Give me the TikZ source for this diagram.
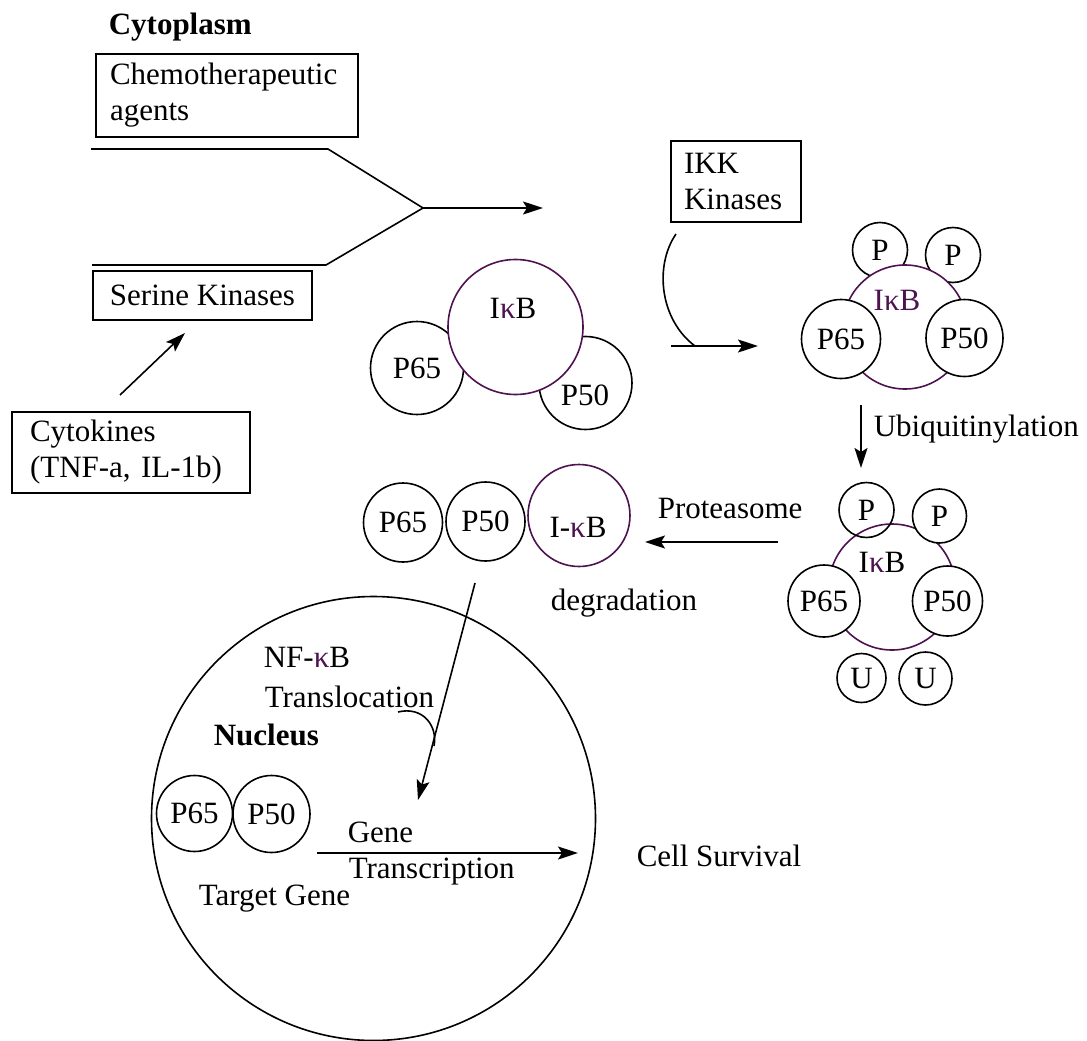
\documentclass[tikz,border=0pt]{standalone}
\usepackage{fontspec}
\setmainfont{Liberation Serif}
\usepackage{xcolor}
\usetikzlibrary{arrows.meta, positioning}
\definecolor{ikbpurple}{HTML}{4E1250}

\begin{document}
\begin{tikzpicture}[x=1pt, y=-1pt, line width=1.6pt, >={Stealth[length=20pt,width=13pt,inset=4pt]},
                    font=\fontsize{31}{36}\selectfont, every node/.style={inner sep=0pt},
                    txt/.style={anchor=base west},
                    box/.style={draw, rectangle, align=left, inner xsep=14pt},
                    mol/.style={draw, circle, fill=white},
                    ikb/.style={draw=ikbpurple, circle, fill=white}]
                      \useasboundingbox (0,0) rectangle (1087,1041);

                      \node[txt] (cyto) at (108,35) {\bfseries Cytoplasm};
                      \node[box, minimum width=262, minimum height=83, text width=234] (chemo) at (227,95.5) {Chemotherapeutic\\agents};
                      \node[box, minimum width=219, minimum height=49, align=center] (serine) at (202.5,295.5) {Serine Kinases};
                      \node[box, minimum width=238, minimum height=81, text width=202, inner xsep=18pt] (cytok) at (131,452.5) {Cytokines\\(TNF-a, IL-1b)};
                      \node[box, minimum width=130, minimum height=81, text width=104, inner xsep=13pt] (ikk) at (736,181.5) {IKK\\Kinases};

                      \coordinate (f1) at (91,149);
                      \coordinate (f2) at (328,149);
                      \coordinate (fj) at (423,208);
                      \coordinate (f3) at (326,265);
                      \coordinate (f4) at (92,265);
                      \coordinate (ftip) at (543,208);
                      \draw (f1) -- (f2) -- (fj) -- (f3) -- (f4);
                      \draw[->] (fj) -- (ftip);

                      \coordinate (c1) at (120,395);
                      \coordinate (c2) at (185,333);
                      \draw[->] (c1) -- (c2);

                      \node[mol, minimum size=93] (p65a) at (417,368) {P65};
                      \node[mol, minimum size=93] (p50a) at (585.5,383) {};
                      \node[ikb, minimum size=135] (ikba) at (515.5,327) {};
                      \node (ikbatxt) at (513,308) {I{\color{ikbpurple}κ}B};
                      \node (p50atxt) at (585,395) {P50};

                      \coordinate (k1) at (676,234);
                      \coordinate (k2) at (695,346);
                      \coordinate (a1) at (671,346);
                      \coordinate (a2) at (758,346);
                      \draw (k1) .. controls (654,266) and (660,320) .. (k2);
                      \draw[->] (a1) -- (a2);

                      \node[mol, minimum size=55] (pa) at (880,250) {P};
                      \node[mol, minimum size=55] (pb) at (953,255) {P};
                      \node[ikb, minimum size=124] (ikbb) at (905,327) {};
                      \node (ikbbtxt) at (897,300) {\color{ikbpurple}IκB};
                      \node[mol, minimum size=79] (p65b) at (841,339) {P65};
                      \node[mol, minimum size=77] (p50b) at (964.5,338) {P50};

                      \coordinate (u1) at (861,405);
                      \coordinate (u2) at (861,468);
                      \draw[->] (u1) -- (u2);
                      \node[txt] (ubiq) at (873,436) {Ubiquitinylation};

                      \node[ikb, minimum size=126] (ikbc) at (892,587) {};
                      \node[draw, circle, minimum size=55] (pc) at (866.5,510) {P};
                      \node[mol, minimum size=54] (pd) at (939.5,516) {P};
                      \node (ikbctxt) at (882,562) {I{\color{ikbpurple}κ}B};
                      \node[mol, minimum size=72] (p65c) at (824,601) {P65};
                      \node[mol, minimum size=70] (p50c) at (947.5,601) {P50};
                      \node[mol, minimum size=49] (ua) at (861.5,678) {U};
                      \node[mol, minimum size=53] (ub) at (925.5,678.5) {U};

                      \coordinate (pr1) at (778,542);
                      \coordinate (pr2) at (645,542);
                      \draw[->] (pr1) -- (pr2);
                      \node[txt] (prot) at (657,518) {Proteasome};
                      \node[txt] (degr) at (550,610) {degradation};

                      \node[mol, minimum size=79] (p65e) at (403,522.5) {P65};
                      \node[mol, minimum size=79] (p50e) at (485.5,521.5) {P50};
                      \node[ikb, minimum size=102] (ikbe) at (579,515.5) {};
                      \node (ikbetxt) at (578,527) {I-{\color{ikbpurple}κ}B};

                      \node[draw, circle, minimum size=444] (nucleus) at (373.5,818.5) {};
                      \coordinate (t1) at (475,583);
                      \coordinate (t2) at (418,800);
                      \draw[->] (t1) -- (t2);
                      \coordinate (h1) at (398,712);
                      \coordinate (h2) at (434,746);
                      \draw (h1) .. controls (422,706) and (438,725) .. (h2);
                      \node[txt] (nfkb) at (263,667) {NF-{\color{ikbpurple}κ}B};
                      \node[txt] (transl) at (264,707) {Translocation};
                      \node[txt] (nucl) at (213,745) {\bfseries Nucleus};

                      \node[mol, minimum size=76] (p65d) at (194.5,813.5) {P65};
                      \node[mol, minimum size=77] (p50d) at (271.5,814) {P50};
                      \node[txt] (target) at (198,905) {Target Gene};

                      \coordinate (g1) at (317,853);
                      \coordinate (g2) at (578,853);
                      \draw[->] (g1) -- (g2);
                      \node[txt] (gene) at (347,842) {Gene};
                      \node[txt] (transc) at (348,878) {Transcription};
                      \node[txt] (surv) at (636,866) {Cell Survival};

                    \end{tikzpicture}
\end{document}
